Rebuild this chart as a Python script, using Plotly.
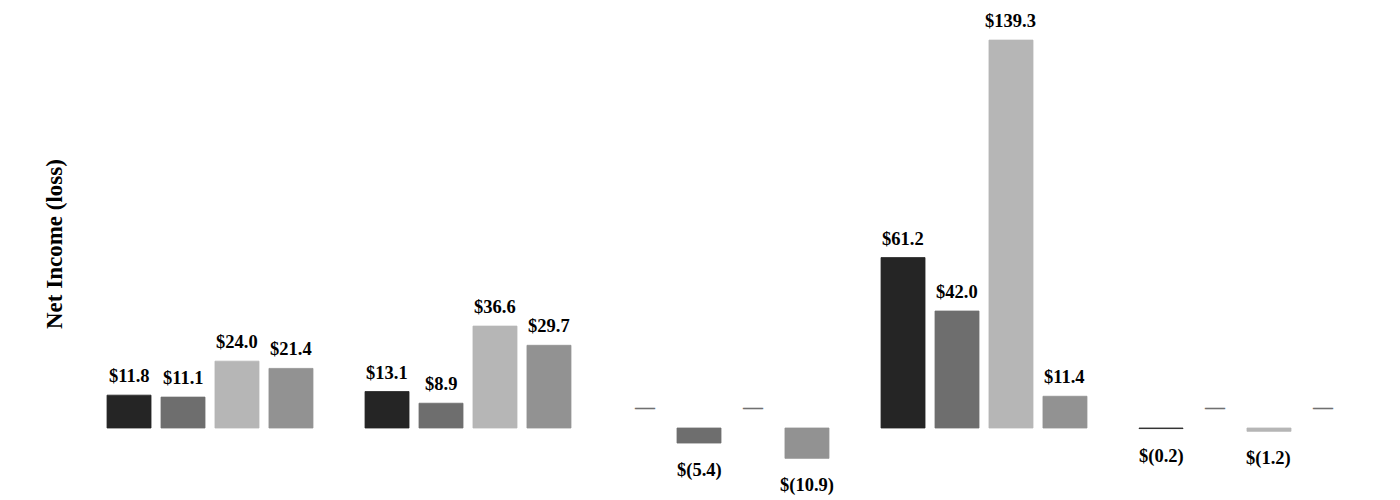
import plotly.graph_objects as go

categories = ["Group 1", "Group 2", "Group 3", "Group 4", "Group 5"]
series_a = [11.8, 13.1, None, 61.2, -0.2]
series_b = [11.1, 8.9, -5.4, 42.0, None]
series_c = [24.0, 36.6, None, 139.3, -1.2]
series_d = [21.4, 29.7, -10.9, 11.4, None]
series_names = ["Series A", "Series B", "Series C", "Series D"]
colors = ["#252525", "#6e6e6e", "#b6b6b6", "#929292"]

all_series = [series_a, series_b, series_c, series_d]

BARGAP = 0.163
BARGROUPGAP = 0.185
FONT = "Liberation Serif, Times New Roman, serif"


def fmt(v):
    if v is None:
        return "—"
    if v < 0:
        return f"$({abs(v):.1f})"
    return f"${v:.1f}"


fig = go.Figure()
for name, vals, col in zip(series_names, all_series, colors):
    fig.add_trace(go.Bar(
        x=categories,
        y=vals,
        name=name,
        marker=dict(color=col, line=dict(color=col, width=0.8)),
        hoverinfo="skip",
    ))

annotations = []
n = len(all_series)
for j, vals in enumerate(all_series):
    off = (j - (n - 1) / 2) * (1 - BARGAP) / n
    for i, v in enumerate(vals):
        xpos = i + off
        if v is None:
            annotations.append(dict(
                x=xpos, y=0, xref="x", yref="y", text="<b>—</b>", showarrow=False,
                yanchor="middle", yshift=21,
                font=dict(family=FONT, size=20, color="#707070"),
            ))
        elif v >= 0:
            annotations.append(dict(
                x=xpos, y=v, xref="x", yref="y", text="<b>" + fmt(v) + "</b>",
                showarrow=False, yanchor="bottom", yshift=7,
                font=dict(family=FONT, size=18.5, color="#000000"),
            ))
        else:
            annotations.append(dict(
                x=xpos, y=v, xref="x", yref="y", text="<b>" + fmt(v) + "</b>",
                showarrow=False, yanchor="top", yshift=-15,
                font=dict(family=FONT, size=18.5, color="#000000"),
            ))

annotations.append(dict(
    x=0, y=0.5, xref="paper", yref="paper", xanchor="center", yanchor="middle",
    xshift=-27, yshift=6,
    text="<b>Net Income (loss)</b>", textangle=-90, showarrow=False,
    font=dict(family=FONT, size=23, color="#000000"),
))

fig.update_layout(
    width=1400, height=500,
    barmode="group", bargap=BARGAP, bargroupgap=BARGROUPGAP,
    plot_bgcolor="white", paper_bgcolor="white",
    margin=dict(l=81, r=29, t=10, b=10),
    showlegend=False,
    annotations=annotations,
    xaxis=dict(visible=False, range=[-0.5, 4.5]),
    yaxis=dict(visible=False, range=[-22.26, 150.1], zeroline=False),
    font=dict(family=FONT),
)

fig.write_html(
    "out.html",
    config={"displayModeBar": False},
    post_script="document.body.style.margin='0';document.body.style.overflow='hidden';",
)
